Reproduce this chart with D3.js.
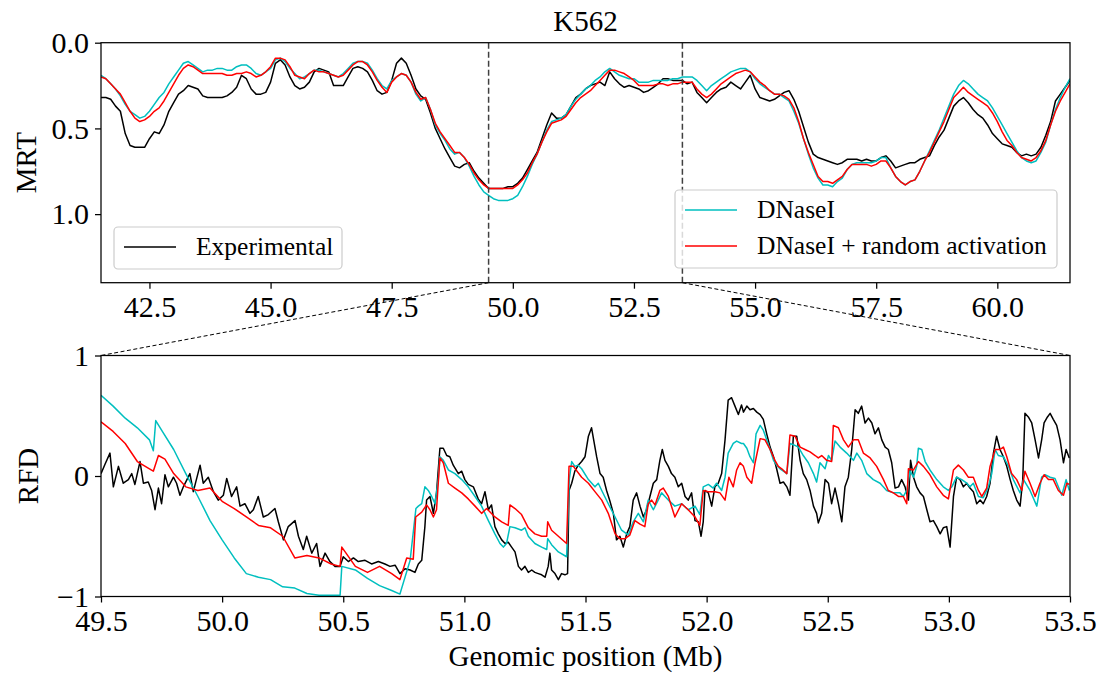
<!DOCTYPE html>
<html>
<head>
<meta charset="utf-8">
<script src="https://cdnjs.cloudflare.com/ajax/libs/d3/7.8.5/d3.min.js"></script>
<style>
body { margin: 0; background: #fff; }
svg text { font-family: "Liberation Serif", "DejaVu Serif", serif; fill: #000; }
</style>
</head>
<body>
<script>

// MRT: one value every 0.1 Mb starting at 41.5 Mb
var mrtStart = 41.5, mrtStep = 0.1;

var mrtExperimental = [
  0.32,0.32,0.33,0.37,0.40,0.53,0.60,0.61,0.61,0.61,
  0.56,0.52,0.53,0.48,0.40,0.35,0.30,0.28,0.25,0.26,
  0.27,0.31,0.32,0.32,0.32,0.32,0.31,0.29,0.26,0.19,
  0.21,0.27,0.30,0.30,0.29,0.23,0.12,0.10,0.13,0.20,
  0.25,0.27,0.26,0.23,0.17,0.15,0.16,0.17,0.25,0.25,
  0.25,0.20,0.15,0.14,0.15,0.17,0.22,0.28,0.30,0.29,
  0.22,0.12,0.09,0.12,0.19,0.27,0.31,0.33,0.41,0.50,
  0.56,0.62,0.67,0.72,0.73,0.71,0.70,0.75,0.79,0.82,
  0.85,0.85,0.85,0.85,0.84,0.84,0.82,0.79,0.74,0.69,
  0.64,0.56,0.48,0.41,0.44,0.44,0.42,0.37,0.32,0.30,
  0.27,0.25,0.24,0.23,0.25,0.17,0.21,0.24,0.26,0.25,
  0.26,0.27,0.29,0.28,0.26,0.24,0.21,0.21,0.22,0.22,
  0.22,0.24,0.23,0.29,0.32,0.35,0.32,0.29,0.27,0.26,
  0.23,0.25,0.27,0.23,0.19,0.27,0.32,0.33,0.34,0.33,
  0.31,0.29,0.28,0.33,0.40,0.49,0.58,0.65,0.67,0.68,
  0.69,0.70,0.71,0.70,0.68,0.68,0.68,0.69,0.68,0.69,
  0.69,0.67,0.66,0.69,0.73,0.72,0.71,0.70,0.70,0.68,
  0.67,0.66,0.60,0.55,0.51,0.44,0.37,0.34,0.32,0.35,
  0.39,0.42,0.44,0.48,0.53,0.56,0.59,0.60,0.61,0.64,
  0.66,0.65,0.66,0.65,0.61,0.54,0.46,0.34,0.30,0.26,
  0.22
];

var mrtDnase = [
  0.19,0.21,0.24,0.27,0.31,0.36,0.40,0.42,0.44,0.43,
  0.40,0.36,0.32,0.29,0.24,0.20,0.16,0.12,0.11,0.13,
  0.15,0.17,0.16,0.16,0.15,0.15,0.16,0.16,0.14,0.13,
  0.13,0.15,0.18,0.19,0.17,0.15,0.10,0.09,0.11,0.15,
  0.18,0.21,0.20,0.18,0.16,0.16,0.17,0.18,0.19,0.20,
  0.18,0.15,0.12,0.11,0.11,0.12,0.16,0.21,0.25,0.27,
  0.22,0.20,0.18,0.19,0.23,0.30,0.34,0.32,0.39,0.48,
  0.53,0.57,0.62,0.65,0.64,0.67,0.72,0.78,0.83,0.87,
  0.89,0.91,0.92,0.92,0.92,0.91,0.89,0.84,0.78,0.71,
  0.65,0.58,0.51,0.46,0.45,0.44,0.42,0.37,0.33,0.30,
  0.27,0.25,0.22,0.20,0.17,0.15,0.17,0.19,0.20,0.21,
  0.21,0.23,0.23,0.23,0.22,0.22,0.22,0.22,0.21,0.21,
  0.20,0.20,0.20,0.22,0.25,0.28,0.25,0.23,0.21,0.19,
  0.17,0.16,0.15,0.15,0.17,0.21,0.24,0.26,0.28,0.30,
  0.30,0.32,0.34,0.40,0.47,0.56,0.65,0.73,0.79,0.83,
  0.83,0.84,0.81,0.79,0.74,0.71,0.70,0.70,0.70,0.70,
  0.69,0.67,0.67,0.73,0.78,0.81,0.83,0.81,0.80,0.75,
  0.69,0.63,0.57,0.51,0.44,0.37,0.30,0.25,0.22,0.24,
  0.27,0.30,0.32,0.34,0.38,0.43,0.48,0.53,0.58,0.63,
  0.67,0.69,0.70,0.69,0.64,0.58,0.48,0.39,0.32,0.26,
  0.21
];

var mrtDnaseRandom = [
  0.20,0.21,0.24,0.27,0.30,0.35,0.40,0.44,0.46,0.45,
  0.43,0.40,0.38,0.34,0.29,0.24,0.19,0.15,0.13,0.14,
  0.16,0.18,0.18,0.18,0.18,0.18,0.19,0.19,0.18,0.18,
  0.17,0.18,0.20,0.19,0.17,0.14,0.09,0.09,0.10,0.14,
  0.19,0.20,0.21,0.18,0.16,0.17,0.17,0.18,0.19,0.20,
  0.19,0.16,0.13,0.11,0.11,0.13,0.17,0.22,0.26,0.29,
  0.23,0.20,0.18,0.19,0.23,0.29,0.33,0.32,0.39,0.47,
  0.52,0.56,0.60,0.64,0.64,0.67,0.71,0.76,0.80,0.83,
  0.85,0.85,0.85,0.85,0.85,0.85,0.83,0.80,0.76,0.70,
  0.65,0.58,0.52,0.47,0.46,0.45,0.43,0.39,0.35,0.32,
  0.30,0.28,0.25,0.22,0.19,0.16,0.16,0.17,0.18,0.20,
  0.22,0.25,0.25,0.25,0.25,0.24,0.24,0.25,0.24,0.24,
  0.23,0.23,0.23,0.27,0.30,0.32,0.30,0.27,0.24,0.22,
  0.20,0.18,0.17,0.16,0.17,0.20,0.23,0.25,0.28,0.30,
  0.30,0.31,0.33,0.38,0.46,0.56,0.64,0.71,0.78,0.81,
  0.81,0.82,0.80,0.78,0.74,0.71,0.71,0.71,0.71,0.72,
  0.71,0.69,0.69,0.73,0.78,0.81,0.83,0.81,0.80,0.75,
  0.69,0.64,0.58,0.52,0.46,0.39,0.32,0.29,0.26,0.29,
  0.31,0.33,0.35,0.37,0.41,0.46,0.52,0.57,0.60,0.64,
  0.67,0.68,0.69,0.67,0.63,0.57,0.48,0.40,0.34,0.29,
  0.24
];

// RFD: [position in Mb, value]
var rfdExperimental = [
  [49.500,0.02],[49.517,0.10],[49.537,0.19],[49.551,-0.09],[49.572,0.08],[49.592,-0.06],
  [49.613,-0.03],[49.627,0.02],[49.640,-0.07],[49.661,0.12],[49.675,-0.06],[49.695,-0.05],
  [49.709,-0.12],[49.723,-0.28],[49.737,-0.10],[49.750,-0.23],[49.764,0.01],[49.778,-0.09],
  [49.799,-0.01],[49.812,-0.06],[49.826,-0.16],[49.840,-0.09],[49.867,0.02],[49.881,-0.13],
  [49.909,0.09],[49.922,-0.06],[49.943,-0.01],[49.964,-0.13],[49.984,-0.20],[50.005,-0.16],
  [50.019,-0.02],[50.039,-0.17],[50.060,-0.09],[50.074,-0.25],[50.094,-0.23],[50.115,-0.31],
  [50.129,-0.28],[50.149,-0.17],[50.170,-0.34],[50.191,-0.32],[50.218,-0.27],[50.232,-0.38],
  [50.253,-0.53],[50.273,-0.42],[50.301,-0.37],[50.315,-0.50],[50.335,-0.61],[50.349,-0.50],
  [50.370,-0.64],[50.390,-0.56],[50.404,-0.75],[50.425,-0.64],[50.445,-0.71],[50.466,-0.75],
  [50.487,-0.75],[50.500,-0.67],[50.521,-0.71],[50.542,-0.68],[50.562,-0.71],[50.590,-0.70],
  [50.617,-0.73],[50.645,-0.71],[50.672,-0.73],[50.693,-0.75],[50.714,-0.74],[50.734,-0.81],
  [50.755,-0.77],[50.776,-0.78],[50.796,-0.80],[50.810,-0.73],[50.824,-0.70],[50.837,-0.42],
  [50.844,-0.20],[50.858,-0.17],[50.872,-0.31],[50.885,-0.14],[50.899,0.23],[50.913,0.23],
  [50.927,0.17],[50.940,0.16],[50.954,0.09],[50.975,0.02],[50.989,0.04],[51.002,-0.03],
  [51.016,-0.07],[51.037,-0.09],[51.057,-0.19],[51.071,-0.23],[51.085,-0.13],[51.099,-0.28],
  [51.112,-0.24],[51.126,-0.42],[51.140,-0.48],[51.154,-0.53],[51.168,-0.56],[51.181,-0.55],
  [51.195,-0.59],[51.209,-0.63],[51.223,-0.75],[51.236,-0.78],[51.250,-0.75],[51.264,-0.80],
  [51.278,-0.78],[51.291,-0.80],[51.305,-0.81],[51.319,-0.82],[51.333,-0.84],[51.346,-0.75],
  [51.353,-0.64],[51.360,-0.78],[51.374,-0.81],[51.388,-0.86],[51.401,-0.81],[51.415,-0.82],
  [51.426,-0.81],[51.432,-0.12],[51.443,-0.06],[51.456,0.04],[51.470,0.09],[51.484,0.12],
  [51.498,0.16],[51.512,0.33],[51.525,0.40],[51.539,0.24],[51.546,0.16],[51.560,0.02],
  [51.573,-0.01],[51.587,-0.12],[51.601,-0.21],[51.615,-0.31],[51.628,-0.53],[51.642,-0.50],
  [51.656,-0.59],[51.670,-0.48],[51.683,-0.42],[51.697,-0.20],[51.711,-0.14],[51.725,-0.25],
  [51.739,-0.34],[51.752,-0.28],[51.766,-0.17],[51.780,-0.06],[51.794,-0.03],[51.807,0.13],
  [51.817,0.22],[51.828,0.13],[51.842,0.08],[51.855,0.02],[51.869,-0.01],[51.883,-0.09],
  [51.897,-0.06],[51.911,-0.17],[51.924,-0.20],[51.938,-0.14],[51.952,-0.37],[51.966,-0.38],
  [51.977,-0.50],[51.986,-0.38],[51.993,-0.12],[52.007,-0.14],[52.021,-0.25],[52.034,-0.09],
  [52.048,-0.06],[52.062,0.02],[52.076,0.30],[52.089,0.63],[52.103,0.65],[52.117,0.58],
  [52.131,0.51],[52.144,0.59],[52.152,0.53],[52.166,0.58],[52.179,0.55],[52.193,0.56],
  [52.207,0.53],[52.221,0.51],[52.234,0.47],[52.248,0.35],[52.262,0.24],[52.276,0.16],
  [52.289,0.06],[52.303,-0.06],[52.317,-0.05],[52.331,-0.09],[52.344,-0.16],[52.358,0.33],
  [52.372,0.33],[52.386,0.13],[52.399,0.02],[52.413,-0.03],[52.427,-0.12],[52.441,-0.25],
  [52.454,-0.31],[52.461,-0.39],[52.475,-0.31],[52.489,-0.03],[52.503,-0.06],[52.516,-0.23],
  [52.530,-0.10],[52.544,-0.23],[52.558,-0.38],[52.571,-0.09],[52.585,-0.01],[52.599,0.22],
  [52.613,0.55],[52.626,0.52],[52.640,0.58],[52.654,0.44],[52.668,0.48],[52.682,0.44],
  [52.695,0.35],[52.709,0.40],[52.723,0.30],[52.737,0.24],[52.750,0.22],[52.764,0.11],
  [52.778,-0.10],[52.792,-0.09],[52.805,-0.03],[52.819,-0.09],[52.833,-0.20],[52.842,0.13],
  [52.854,-0.01],[52.867,-0.09],[52.881,-0.14],[52.895,-0.17],[52.909,-0.28],[52.922,-0.38],
  [52.936,-0.37],[52.950,-0.42],[52.964,-0.48],[52.977,-0.43],[52.991,-0.42],[53.005,-0.59],
  [53.019,-0.17],[53.032,-0.01],[53.046,-0.03],[53.060,-0.09],[53.074,-0.06],[53.087,-0.10],
  [53.101,-0.13],[53.115,-0.23],[53.129,-0.20],[53.142,-0.23],[53.156,-0.17],[53.170,-0.06],
  [53.184,0.19],[53.197,0.33],[53.211,0.22],[53.225,0.16],[53.239,0.08],[53.253,-0.03],
  [53.266,-0.12],[53.280,-0.20],[53.294,-0.25],[53.305,-0.03],[53.314,0.52],[53.328,0.49],
  [53.342,0.44],[53.356,0.30],[53.370,0.15],[53.383,0.30],[53.393,0.44],[53.407,0.49],
  [53.418,0.52],[53.431,0.47],[53.445,0.42],[53.459,0.30],[53.473,0.11],[53.484,0.22],
  [53.497,0.15]
];

var rfdDnase = [
  [49.500,0.67],[49.550,0.58],[49.600,0.48],[49.650,0.40],[49.700,0.30],[49.716,0.21],
  [49.726,0.46],[49.750,0.38],[49.800,0.22],[49.850,0.02],[49.900,-0.17],[49.950,-0.37],
  [50.000,-0.53],[50.050,-0.68],[50.100,-0.81],[50.150,-0.84],[50.200,-0.86],[50.250,-0.92],
  [50.300,-0.93],[50.350,-0.975],[50.400,-0.99],[50.450,-0.99],[50.487,-0.99],[50.494,-0.75],
  [50.550,-0.78],[50.600,-0.85],[50.650,-0.91],[50.700,-0.95],[50.734,-0.98],[50.776,-0.70],
  [50.800,-0.27],[50.810,-0.25],[50.824,-0.23],[50.837,-0.09],[50.851,-0.12],[50.865,-0.17],
  [50.879,-0.23],[50.892,-0.03],[50.899,0.16],[50.913,0.13],[50.934,0.05],[50.961,0.02],
  [50.989,-0.03],[51.016,-0.09],[51.044,-0.17],[51.071,-0.25],[51.099,-0.37],[51.126,-0.48],
  [51.147,-0.56],[51.161,-0.59],[51.174,-0.56],[51.188,-0.42],[51.209,-0.43],[51.236,-0.45],
  [51.250,-0.43],[51.264,-0.50],[51.291,-0.56],[51.319,-0.59],[51.340,-0.61],[51.344,-0.52],
  [51.360,-0.57],[51.388,-0.63],[51.422,-0.67],[51.433,-0.03],[51.443,0.12],[51.456,0.08],
  [51.470,0.09],[51.484,0.06],[51.512,-0.03],[51.539,-0.09],[51.553,-0.06],[51.567,-0.12],
  [51.594,-0.23],[51.622,-0.34],[51.649,-0.45],[51.677,-0.49],[51.697,-0.38],[51.718,-0.31],
  [51.739,-0.38],[51.759,-0.20],[51.780,-0.28],[51.800,-0.20],[51.814,-0.14],[51.842,-0.20],
  [51.869,-0.25],[51.897,-0.23],[51.924,-0.28],[51.952,-0.25],[51.972,-0.32],[51.986,-0.09],
  [52.007,-0.07],[52.027,-0.10],[52.041,-0.06],[52.062,-0.12],[52.076,-0.01],[52.089,0.19],
  [52.110,0.27],[52.124,0.29],[52.144,0.27],[52.152,0.27],[52.166,0.23],[52.179,0.16],
  [52.193,0.11],[52.204,0.35],[52.221,0.42],[52.234,0.38],[52.248,0.30],[52.262,0.22],
  [52.276,0.13],[52.289,0.09],[52.303,0.06],[52.317,0.04],[52.331,0.02],[52.344,0.27],
  [52.358,0.26],[52.379,0.24],[52.399,0.17],[52.420,0.11],[52.441,0.02],[52.454,-0.05],
  [52.468,0.11],[52.489,0.06],[52.503,0.17],[52.516,0.13],[52.530,0.29],[52.551,0.24],
  [52.578,0.19],[52.606,0.13],[52.620,0.19],[52.640,0.13],[52.661,0.02],[52.688,-0.03],
  [52.716,-0.06],[52.743,-0.12],[52.771,-0.14],[52.798,-0.14],[52.812,-0.17],[52.826,-0.12],
  [52.840,0.04],[52.854,-0.01],[52.867,0.08],[52.874,0.23],[52.888,0.22],[52.902,0.12],
  [52.922,0.05],[52.950,-0.03],[52.977,-0.09],[52.998,-0.12],[53.012,-0.09],[53.032,-0.01],
  [53.053,-0.03],[53.074,-0.06],[53.087,-0.09],[53.101,-0.06],[53.122,-0.17],[53.142,-0.18],
  [53.163,-0.09],[53.177,0.02],[53.191,0.22],[53.204,0.17],[53.225,0.16],[53.246,0.08],
  [53.266,-0.03],[53.294,-0.14],[53.308,-0.03],[53.335,-0.12],[53.363,-0.25],[53.383,-0.01],
  [53.397,0.01],[53.418,-0.01],[53.438,-0.02],[53.466,-0.16],[53.484,-0.03],[53.497,-0.12]
];

var rfdDnaseRandom = [
  [49.500,0.45],[49.550,0.37],[49.600,0.27],[49.650,0.12],[49.700,0.06],[49.716,0.04],
  [49.737,0.17],[49.764,0.14],[49.800,0.02],[49.850,-0.09],[49.900,-0.12],[49.950,-0.10],
  [50.000,-0.21],[50.050,-0.27],[50.100,-0.34],[50.150,-0.41],[50.200,-0.43],[50.250,-0.50],
  [50.300,-0.68],[50.350,-0.66],[50.400,-0.68],[50.450,-0.73],[50.487,-0.75],[50.494,-0.59],
  [50.550,-0.75],[50.600,-0.80],[50.650,-0.75],[50.700,-0.81],[50.734,-0.86],[50.762,-0.68],
  [50.789,-0.69],[50.799,-0.34],[50.824,-0.30],[50.844,-0.24],[50.858,-0.28],[50.872,-0.34],
  [50.885,-0.28],[50.899,0.15],[50.913,0.11],[50.934,-0.06],[50.961,-0.10],[50.989,-0.14],
  [51.016,-0.19],[51.044,-0.25],[51.071,-0.31],[51.092,-0.27],[51.126,-0.34],[51.154,-0.38],
  [51.181,-0.41],[51.188,-0.24],[51.209,-0.27],[51.236,-0.32],[51.264,-0.43],[51.291,-0.48],
  [51.319,-0.50],[51.340,-0.50],[51.344,-0.38],[51.360,-0.45],[51.388,-0.50],[51.422,-0.56],
  [51.432,0.08],[51.450,0.08],[51.484,-0.01],[51.512,-0.06],[51.539,-0.13],[51.567,-0.20],
  [51.594,-0.31],[51.622,-0.48],[51.642,-0.52],[51.663,-0.52],[51.683,-0.49],[51.704,-0.37],
  [51.725,-0.40],[51.745,-0.42],[51.759,-0.23],[51.773,-0.20],[51.787,-0.24],[51.807,-0.12],
  [51.821,-0.10],[51.842,-0.17],[51.869,-0.34],[51.897,-0.23],[51.924,-0.28],[51.952,-0.34],
  [51.972,-0.41],[51.986,-0.12],[52.007,-0.13],[52.034,-0.13],[52.055,-0.14],[52.076,-0.20],
  [52.092,-0.01],[52.110,-0.09],[52.124,0.05],[52.138,0.11],[52.152,0.08],[52.166,-0.01],
  [52.186,-0.06],[52.200,0.11],[52.221,0.31],[52.241,0.30],[52.262,0.22],[52.282,0.13],
  [52.296,0.08],[52.310,0.06],[52.331,0.02],[52.344,0.34],[52.365,0.33],[52.386,0.24],
  [52.406,0.22],[52.427,0.20],[52.448,0.17],[52.461,0.15],[52.475,0.17],[52.496,0.13],
  [52.516,0.12],[52.523,0.42],[52.544,0.40],[52.565,0.30],[52.585,0.24],[52.606,0.30],
  [52.626,0.30],[52.647,0.19],[52.675,0.15],[52.702,0.08],[52.730,-0.03],[52.750,-0.12],
  [52.771,-0.14],[52.792,-0.17],[52.812,-0.17],[52.826,-0.23],[52.833,0.06],[52.854,0.05],
  [52.874,0.12],[52.895,0.08],[52.922,0.01],[52.950,-0.09],[52.977,-0.16],[52.998,-0.19],
  [53.019,0.05],[53.039,0.09],[53.060,0.05],[53.080,-0.01],[53.101,-0.01],[53.122,-0.12],
  [53.136,-0.17],[53.156,-0.10],[53.170,0.08],[53.191,0.22],[53.211,0.22],[53.225,0.24],
  [53.239,0.16],[53.259,0.02],[53.280,-0.03],[53.301,-0.12],[53.314,0.04],[53.335,-0.06],
  [53.356,-0.17],[53.376,-0.06],[53.393,0.01],[53.411,-0.03],[53.431,-0.03],[53.452,-0.12],
  [53.473,-0.16],[53.487,-0.06],[53.497,-0.07]
];

var mrtDomainX = [41.5, 61.5];
var mrtDomainY = [0, 1.4];
var zoomRange = [49.5, 53.5];
var rfdDomainY = [-1, 1];
var mrtXTicks = [42.5, 45.0, 47.5, 50.0, 52.5, 55.0, 57.5, 60.0];
var mrtYTicks = [0.0, 0.5, 1.0];
var rfdXTicks = [49.5, 50.0, 50.5, 51.0, 51.5, 52.0, 52.5, 53.0, 53.5];
var rfdYTicks = [-1, 0, 1];

var seriesNames = ["Experimental", "DNaseI", "DNaseI + random activation"];
var seriesColors = ["#000000", "#00bfbf", "#ff0000"];

var w = 1116, h = 673;
var left = 101, right = 1070;
var topY0 = 42.7, topY1 = 282.7;
var botY0 = 355.5, botY1 = 596.5;

var svg = d3.select("body").append("svg")
    .attr("width", w)
    .attr("height", h);

var xTop = d3.scaleLinear().domain(mrtDomainX).range([left, right]);
var yTop = d3.scaleLinear().domain(mrtDomainY).range([topY0, topY1]);
var xBot = d3.scaleLinear().domain(zoomRange).range([left, right]);
var yBot = d3.scaleLinear().domain(rfdDomainY).range([botY1, botY0]);

var mrtRows = [mrtExperimental, mrtDnase, mrtDnaseRandom].map(function(vals) {
    return vals.map(function(v, i) { return [mrtStart + i * mrtStep, v]; });
});
var rfdRows = [rfdExperimental, rfdDnase, rfdDnaseRandom];

var defs = svg.append("defs");
defs.append("clipPath").attr("id", "clipTop").append("rect")
    .attr("x", left).attr("y", topY0).attr("width", right - left).attr("height", topY1 - topY0);
defs.append("clipPath").attr("id", "clipBot").append("rect")
    .attr("x", left).attr("y", botY0).attr("width", right - left).attr("height", botY1 - botY0);

function styleAxis(g) {
    g.attr("font-family", null).attr("font-size", null);
    g.select(".domain").remove();
    g.selectAll(".tick line").attr("stroke", "#000").attr("stroke-width", 1.25);
    g.selectAll(".tick text").style("font-size", "30px");
}

function drawPanel(rows, xs, ys, clipId, y0, y1, xTicks, yTicks, yFmt) {
    var line = d3.line()
        .x(function(d) { return xs(d[0]); })
        .y(function(d) { return ys(d[1]); });

    svg.append("g").attr("clip-path", "url(#" + clipId + ")")
        .selectAll("path")
        .data(rows)
        .enter().append("path")
        .attr("d", line)
        .attr("fill", "none")
        .attr("stroke", function(d, i) { return seriesColors[i]; })
        .attr("stroke-width", 1.5)
        .attr("stroke-linejoin", "round");

    svg.append("g")
        .attr("transform", "translate(0," + y1 + ")")
        .call(d3.axisBottom(xs).tickValues(xTicks).tickFormat(d3.format(".1f"))
            .tickSize(6).tickPadding(7.5))
        .call(styleAxis);

    svg.append("g")
        .attr("transform", "translate(" + left + ",0)")
        .call(d3.axisLeft(ys).tickValues(yTicks).tickFormat(yFmt)
            .tickSize(6).tickPadding(6))
        .call(styleAxis);
}

drawPanel(mrtRows, xTop, yTop, "clipTop", topY0, topY1, mrtXTicks, mrtYTicks, d3.format(".1f"));
drawPanel(rfdRows, xBot, yBot, "clipBot", botY0, botY1, rfdXTicks, rfdYTicks, d3.format("d"));

// zoom window markers on the MRT panel
svg.selectAll("line.zoomMark")
    .data(zoomRange)
    .enter().append("line")
    .attr("class", "zoomMark")
    .attr("x1", function(d) { return xTop(d); })
    .attr("x2", function(d) { return xTop(d); })
    .attr("y1", topY0)
    .attr("y2", topY1)
    .attr("stroke", "#404040")
    .attr("stroke-width", 1.5)
    .attr("stroke-dasharray", "6,3");

// legends
function legend(x, y, wd, ht, items) {
    var g = svg.append("g");
    g.append("rect")
        .attr("x", x).attr("y", y).attr("width", wd).attr("height", ht)
        .attr("rx", 4)
        .attr("fill", "#fff").attr("fill-opacity", 0.8)
        .attr("stroke", "#cccccc").attr("stroke-width", 1.2);
    items.forEach(function(k, j) {
        var cy = y + 20 + j * 36;
        g.append("line")
            .attr("x1", x + 10).attr("x2", x + 62)
            .attr("y1", cy).attr("y2", cy)
            .attr("stroke", seriesColors[k]).attr("stroke-width", 1.5);
        g.append("text")
            .attr("x", x + 82).attr("y", cy)
            .attr("dy", "0.33em")
            .style("font-size", "25.5px")
            .text(seriesNames[k]);
    });
}
legend(114, 227, 228, 42, [0]);
legend(675, 190, 382, 78, [1, 2]);

// frames
[[topY0, topY1], [botY0, botY1]].forEach(function(p) {
    svg.append("rect")
        .attr("x", left).attr("y", p[0])
        .attr("width", right - left).attr("height", p[1] - p[0])
        .attr("fill", "none").attr("stroke", "#000").attr("stroke-width", 1.25);
});

// connectors from the zoom window down to the RFD panel
svg.selectAll("line.connector")
    .data(zoomRange)
    .enter().append("line")
    .attr("class", "connector")
    .attr("x1", function(d) { return xTop(d); })
    .attr("y1", topY1)
    .attr("x2", function(d) { return xBot(d); })
    .attr("y2", botY0)
    .attr("stroke", "#000")
    .attr("stroke-width", 1)
    .attr("stroke-dasharray", "4,2.5");

// titles
svg.append("text")
    .attr("x", (left + right) / 2).attr("y", 31)
    .attr("text-anchor", "middle")
    .style("font-size", "29px")
    .text("K562");

svg.append("text")
    .attr("transform", "translate(36," + (topY0 + topY1) / 2 + ") rotate(-90)")
    .attr("text-anchor", "middle")
    .style("font-size", "29px")
    .text("MRT");

svg.append("text")
    .attr("transform", "translate(38," + (botY0 + botY1) / 2 + ") rotate(-90)")
    .attr("text-anchor", "middle")
    .style("font-size", "29px")
    .text("RFD");

svg.append("text")
    .attr("x", (left + right) / 2).attr("y", 666)
    .attr("text-anchor", "middle")
    .style("font-size", "29px")
    .text("Genomic position (Mb)");

</script>
</body>
</html>
